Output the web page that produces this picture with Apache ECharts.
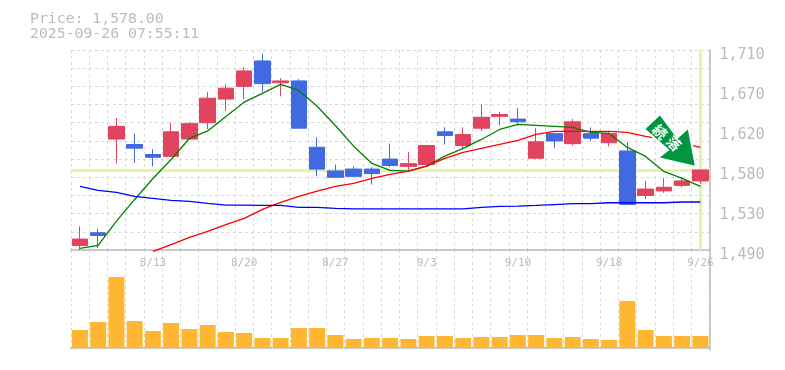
<!DOCTYPE html>
<html>
<head>
<meta charset="utf-8">
<style>
  html, body { margin: 0; padding: 0; background: #fff; }
  #main { width: 785px; height: 370px; }
</style>
<script src="https://cdn.jsdelivr.net/npm/echarts@6/dist/echarts.min.js"></script>
</head>
<body>
<div id="main"></div>
<script>
const dates = ['8/6','8/7','8/8','8/12','8/13','8/14','8/15','8/18','8/19','8/20','8/21','8/22','8/25','8/26','8/27','8/28','8/29','9/1','9/2','9/3','9/4','9/5','9/8','9/9','9/10','9/11','9/12','9/16','9/17','9/18','9/19','9/22','9/24','9/25','9/26'];

// open, close, low, high
const candles = [
  [1495,1502,1490,1516],[1509,1506,1492,1513],[1612,1626,1585,1635],[1606,1602,1586,1618],[1595,1592,1582,1601],
  [1593,1620,1593,1630],[1612,1629,1612,1631],[1630,1657,1623,1664],[1656,1668,1643,1672],[1670,1687,1656,1691],
  [1698,1673,1664,1706],[1674,1676,1659,1679],[1676,1624,1624,1678],[1603,1579,1571,1614],[1577,1570,1570,1584],
  [1579,1571,1571,1582],[1579,1574,1562,1581],[1590,1583,1581,1607],[1582,1585,1577,1598],[1584,1605,1581,1605],
  [1620,1616,1606,1625],[1605,1617,1601,1625],[1624,1636,1621,1650],[1637,1639,1627,1642],[1634,1631,1629,1646],
  [1591,1609,1590,1624],[1618,1610,1602,1618],[1607,1631,1605,1634],[1618,1613,1610,1625],[1608,1618,1604,1621],
  [1599,1540,1540,1609],[1550,1557,1546,1566],[1555,1559,1553,1569],[1561,1566,1559,1570],[1566,1578,1563,1578]
];

const maShort = [1491.7,1495,1521.7,1545.6,1568.7,1589.6,1612.7,1621,1636.9,1652.6,1662.2,1672.1,1665.5,1648.2,1627,1604.2,1585.2,1577.5,1576.7,1582.2,1593.2,1601.7,1611.6,1622.6,1628.1,1627,1625.9,1624.8,1619.3,1618.2,1602.8,1592.9,1576.4,1568.7,1559.9];
const maMid = ['-','-','-','-',1488.4,1496,1503.8,1510.4,1518,1524.7,1534.6,1542.3,1548.9,1554.7,1559.9,1563.2,1568.7,1573.1,1576.7,1582.2,1590.7,1597.3,1601.7,1606.1,1610.5,1617.1,1620.4,1620.4,1620.4,1620.4,1619.3,1614.9,1611.6,1607.2,1602.8];
const maLong = [1559.9,1555.5,1553.3,1548.9,1546.7,1544.5,1543.4,1541.2,1539.3,1539.3,1539,1539,1536.8,1536.8,1535.7,1535.3,1535.3,1535.3,1535.3,1535.3,1535.3,1535.3,1536.8,1537.9,1538.2,1539,1540,1541,1541,1542,1542,1542,1542,1542.8,1542.8];

const volumes = [18000,26000,71000,27000,17000,25000,19000,23000,16000,15000,10000,10000,20000,20000,13000,9000,10000,10000,9000,12000,12000,10000,11000,11000,13000,13000,10000,11000,9000,8000,47000,18000,12000,12000,12000];

const gridTicks = [1490,1510,1530,1550,1570,1590,1610,1630,1650,1670,1690,1710];
const priceTicks = [1490,1534,1578,1622,1666,1710];
const lastPrice = 1578;
const lastDate = '9/26';

const textColor = '#bbbbbb';
const lineColor = '#bbbbbb';
const dashColor = '#d8d8d8';
const monoFont = '"DejaVu Sans Mono", monospace';

let myChart = echarts.init(document.getElementById('main'));

const option = {
  animation: false,
  title: {
    text: 'Price: 1,578.00\n2025-09-26 07:55:11',
    left: 30,
    top: 12,
    padding: 0,
    textStyle: { color: textColor, fontFamily: monoFont, fontSize: 14.8, fontWeight: 'normal', lineHeight: 15 }
  },
  grid: [
    { left: 70.8, top: 50, width: 638.7, height: 200 },
    { left: 70.8, top: 250, width: 638.7, height: 100 }
  ],
  xAxis: [
    {
      type: 'category',
      gridIndex: 0,
      data: dates,
      axisLine: { lineStyle: { color: lineColor, width: 1.5 } },
      axisTick: { show: false },
      axisLabel: {
        color: textColor,
        fontFamily: monoFont,
        fontSize: 11,
        margin: 8,
        hideOverlap: false,
        interval: (i) => (i - 4) % 5 === 0
      },
      splitLine: { show: true, interval: 0, lineStyle: { color: dashColor, type: [3, 3] } }
    },
    {
      type: 'category',
      gridIndex: 1,
      data: dates,
      axisLine: { lineStyle: { color: lineColor, width: 1.5 } },
      axisTick: { show: false },
      axisLabel: { show: false },
      splitLine: { show: true, interval: 0, lineStyle: { color: dashColor, type: [3, 3] } }
    }
  ],
  yAxis: [
    {
      type: 'value',
      gridIndex: 0,
      position: 'right',
      min: 1490,
      max: 1710,
      axisLine: { show: true, lineStyle: { color: lineColor, width: 1.5 } },
      axisTick: { show: false, customValues: gridTicks },
      axisLabel: {
        customValues: priceTicks,
        margin: 10,
        showMinLabel: true,
        showMaxLabel: true,
        // labels sit a little under their grid line, hence the top padding
        formatter: (v) => '{p|' + (Math.round(v / 10) * 10).toLocaleString('en-US') + '}',
        rich: {
          p: { color: textColor, fontFamily: monoFont, fontSize: 15, padding: [10, 0, 0, 0] }
        }
      },
      splitLine: { show: true, lineStyle: { color: dashColor, type: [3, 3] } }
    },
    {
      type: 'value',
      gridIndex: 1,
      position: 'right',
      min: -2000,
      max: 98000,
      axisLine: { show: true, lineStyle: { color: lineColor, width: 1.5 } },
      axisTick: { show: false },
      axisLabel: { show: false },
      splitLine: { show: false }
    }
  ],
  series: [
    {
      type: 'candlestick',
      xAxisIndex: 0,
      yAxisIndex: 0,
      barWidth: 16,
      clip: false,
      z: 3,
      data: candles,
      itemStyle: { color: '#e2435f', color0: '#4169e1', borderColor: '#e2435f', borderColor0: '#4169e1', borderWidth: 1 },
      markLine: {
        silent: true,
        z: 1,
        symbol: 'none',
        label: { show: false },
        lineStyle: { color: '#e4f4a2', width: 3, type: 'solid' },
        data: [{ yAxis: lastPrice }, { xAxis: lastDate }]
      }
    },
    { type: 'line', xAxisIndex: 0, yAxisIndex: 0, data: maShort, showSymbol: false, clip: false, z: 4, lineStyle: { color: '#008000', width: 1.3 } },
    { type: 'line', xAxisIndex: 0, yAxisIndex: 0, data: maMid, showSymbol: false, clip: false, z: 4, lineStyle: { color: '#ff0000', width: 1.3 } },
    { type: 'line', xAxisIndex: 0, yAxisIndex: 0, data: maLong, showSymbol: false, clip: false, z: 4, lineStyle: { color: '#0000ff', width: 1.3 } },
    { type: 'bar', xAxisIndex: 1, yAxisIndex: 1, data: volumes, barWidth: 16, itemStyle: { color: '#ffb733' } }
  ],
  // signal arrow, sits on top of the lines
  graphic: [
    {
      type: 'polygon',
      z: 100,
      shape: { points: [[660, 114], [644, 129], [668, 150], [657.5, 158], [696, 167], [688.5, 127.5], [677.5, 137.5]] },
      style: { fill: '#00963f', stroke: '#ffffff', lineWidth: 2 }
    },
    {
      type: 'text', z: 101, x: 660, y: 132, rotation: -Math.PI / 4,
      style: { text: '続', fill: '#fff', font: 'bold 14px "Noto Sans CJK JP"', align: 'center', verticalAlign: 'middle' }
    },
    {
      type: 'text', z: 101, x: 674, y: 143.5, rotation: -Math.PI / 4,
      style: { text: '落', fill: '#fff', font: 'bold 14px "Noto Sans CJK JP"', align: 'center', verticalAlign: 'middle' }
    }
  ]
};

myChart.setOption(option);
</script>
</body>
</html>
